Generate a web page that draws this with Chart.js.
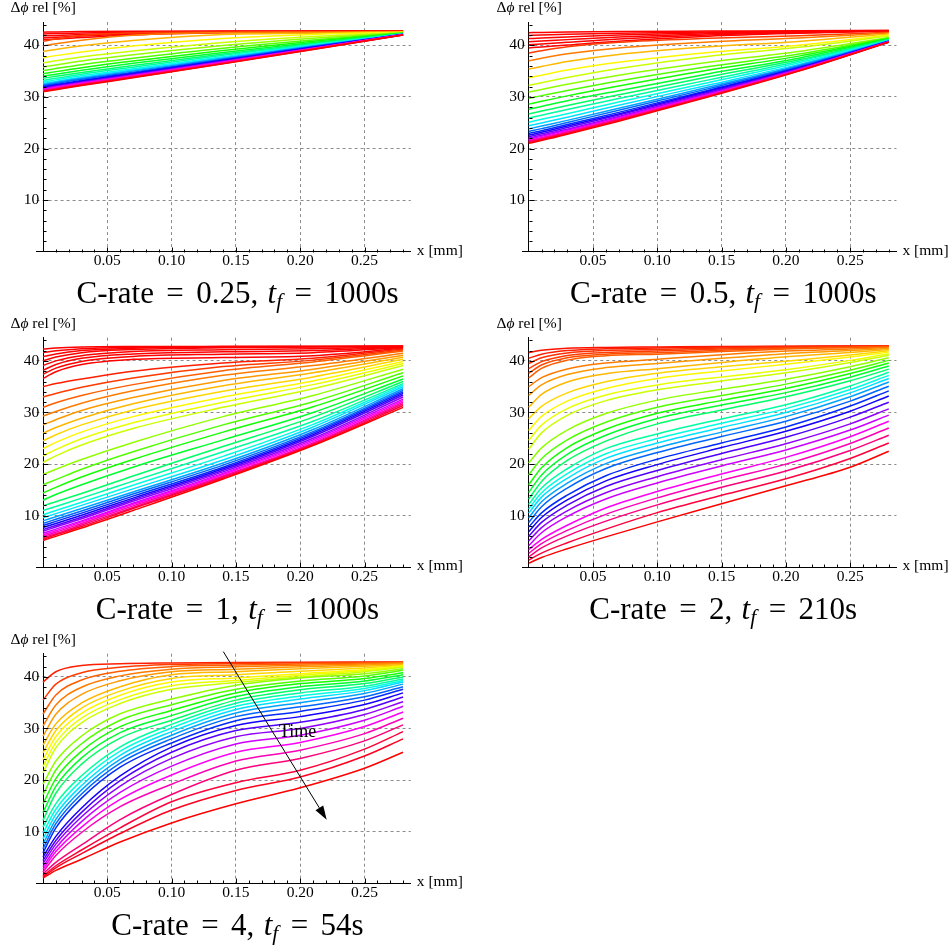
<!DOCTYPE html>
<html>
<head>
<meta charset="utf-8">
<title>Δϕ rel profiles</title>
<script src="https://cdn.jsdelivr.net/npm/chart.js@4.4.1/dist/chart.umd.min.js"></script>
<style>
  html, body { margin: 0; padding: 0; background: #fff; }
  body { width: 952px; height: 951px; position: relative; overflow: hidden;
         font-family: 'Liberation Serif', 'DejaVu Serif', serif; }
  .panel { position: absolute; width: 470px; height: 300px; }
  .cap { position: absolute; width: 476px; text-align: center; font-size: 31px;
         line-height: 1; white-space: nowrap; color: #000; }
  .cap .eq { margin: 0 0.4em; }
  .cap .sp { display: inline-block; width: 0.3em; }
  .cap sub { font-size: 0.7em; vertical-align: -0.25em; line-height: 0; font-style: italic; }
</style>
</head>
<body>
<script>
const xCoarse = [0, 0.01, 0.03, 0.07, 0.14, 0.21, 0.28];
const xFine = [0, 0.01, 0.03, 0.06, 0.10, 0.15, 0.20, 0.25, 0.28];

const cRates = ['0.25', '0.5', '1', '2', '4'];
const tFinal = ['1000s', '1000s', '1000s', '210s', '54s'];
const xTicks = [0.05, 0.10, 0.15, 0.20, 0.25];
const yTicks = [10, 20, 30, 40];

// hue of each profile (0 = first, 1 = last, Mathematica Hue scale)
const hue025 = [0, 0, 0, 0, 0, .04, .08, .12, .16, .20, .24, .28, .32, .36, .40, .44, .48,
  .52, .56, .60, .64, .68, .72, .76, .80, .84, .88, .92, .96, 1];
const phi025 = [
  [42.55, 42.6, 42.66, 42.72, 42.76, 42.78, 42.8],
  [42.2, 42.27, 42.4, 42.58, 42.7, 42.74, 42.77],
  [41.85, 41.92, 42.1, 42.4, 42.62, 42.7, 42.76],
  [41.45, 41.55, 41.8, 42.2, 42.52, 42.66, 42.74],
  [41.1, 41.2, 41.5, 42.0, 42.42, 42.6, 42.72],
  [40.8, 41.2, 41.9, 42.4, 42.6, 42.65, 42.7],
  [39.9, 40.3, 41.0, 41.95, 42.45, 42.55, 42.65],
  [38.8, 39.2, 39.9, 40.95, 42.1, 42.35, 42.6],
  [37.6, 38.0, 38.7, 39.85, 41.3, 42.1, 42.55],
  [36.6, 37.0, 37.75, 38.9, 40.55, 41.7, 42.5],
  [35.8, 36.2, 36.95, 38.15, 39.95, 41.35, 42.45],
  [35.1, 35.5, 36.25, 37.5, 39.45, 41.05, 42.4],
  [34.5, 34.9, 35.65, 36.95, 39.0, 40.8, 42.35],
  [34.0, 34.4, 35.15, 36.5, 38.6, 40.55, 42.3],
  [33.6, 34.0, 34.75, 36.1, 38.3, 40.35, 42.26],
  [33.2, 33.6, 34.4, 35.75, 38.05, 40.2, 42.22],
  [32.9, 33.3, 34.1, 35.45, 37.8, 40.05, 42.19],
  [32.6, 33.0, 33.8, 35.2, 37.6, 39.9, 42.16],
  [32.4, 32.8, 33.6, 35.0, 37.45, 39.85, 42.14],
  [32.2, 32.6, 33.4, 34.8, 37.3, 39.75, 42.12],
  [32.0, 32.4, 33.2, 34.65, 37.15, 39.65, 42.1],
  [31.85, 32.25, 33.05, 34.5, 37.05, 39.6, 42.09],
  [31.7, 32.1, 32.9, 34.35, 36.9, 39.5, 42.07],
  [31.6, 32.0, 32.8, 34.25, 36.85, 39.45, 42.06],
  [31.5, 31.9, 32.7, 34.15, 36.75, 39.4, 42.05],
  [31.4, 31.8, 32.6, 34.05, 36.7, 39.4, 42.04],
  [31.3, 31.7, 32.5, 34.0, 36.6, 39.35, 42.03],
  [31.2, 31.6, 32.4, 33.9, 36.55, 39.3, 42.02],
  [31.1, 31.5, 32.3, 33.8, 36.45, 39.25, 42.01],
  [31.0, 31.4, 32.2, 33.7, 36.4, 39.2, 42.0]
];

const hue05 = [0, 0, 0, 0, 0, 0, .04, .08, .12, .16, .20, .24, .28, .32, .36, .40, .44, .48,
  .52, .56, .60, .64, .68, .72, .76, .80, .84, .88, .92, .96, 1];
const phi05 = [
  [42.45, 42.5, 42.58, 42.68, 42.75, 42.8, 42.88],
  [41.9, 41.98, 42.12, 42.35, 42.6, 42.72, 42.85],
  [41.3, 41.4, 41.62, 42.0, 42.42, 42.64, 42.82],
  [40.7, 40.82, 41.1, 41.62, 42.22, 42.55, 42.8],
  [40.1, 40.24, 40.58, 41.22, 42.0, 42.44, 42.77],
  [39.5, 39.66, 40.05, 40.8, 41.75, 42.32, 42.74],
  [38.5, 38.95, 39.7, 40.6, 41.35, 41.85, 42.55],
  [37.0, 37.5, 38.35, 39.5, 40.65, 41.4, 42.4],
  [35.4, 35.9, 36.85, 38.2, 39.7, 40.75, 42.2],
  [33.7, 34.2, 35.2, 36.7, 38.6, 40.0, 42.0],
  [32.2, 32.75, 33.75, 35.5, 37.9, 39.6, 41.8],
  [30.9, 31.45, 32.45, 34.2, 36.7, 38.8, 41.5],
  [29.7, 30.25, 31.25, 33.1, 35.9, 38.3, 41.4],
  [28.6, 29.15, 30.2, 32.1, 35.2, 37.9, 41.3],
  [27.6, 28.15, 29.25, 31.2, 34.5, 37.5, 41.2],
  [26.7, 27.25, 28.35, 30.4, 33.9, 37.2, 41.1],
  [25.9, 26.45, 27.55, 29.7, 33.3, 36.9, 41.05],
  [25.1, 25.65, 26.75, 29.0, 32.8, 36.6, 41.0],
  [24.4, 24.95, 26.05, 28.4, 32.3, 36.3, 40.9],
  [23.8, 24.35, 25.45, 27.8, 31.9, 36.1, 40.85],
  [23.3, 23.85, 25.05, 27.4, 31.6, 35.9, 40.8],
  [22.9, 23.45, 24.65, 27.0, 31.3, 35.7, 40.77],
  [22.6, 23.15, 24.35, 26.7, 31.1, 35.6, 40.74],
  [22.3, 22.85, 24.05, 26.5, 30.9, 35.5, 40.72],
  [22.0, 22.55, 23.75, 26.2, 30.7, 35.4, 40.69],
  [21.8, 22.35, 23.55, 26.0, 30.5, 35.3, 40.67],
  [21.6, 22.15, 23.35, 25.8, 30.4, 35.2, 40.65],
  [21.45, 22.0, 23.2, 25.7, 30.3, 35.15, 40.64],
  [21.3, 21.85, 23.05, 25.6, 30.2, 35.1, 40.63],
  [21.15, 21.7, 22.9, 25.45, 30.1, 35.05, 40.61],
  [21.0, 21.55, 22.75, 25.3, 30.0, 35.0, 40.6]
];

const hue1 = [0, 0, 0, 0, 0, 0, 0, 0, .02, .04, .06, .08, .10, .12, .14, .16, .18, .20, .24,
  .28, .32, .36, .40, .44, .48, .52, .56, .60, .64, .68, .72, .76, .80, .84, .88, .92, .96, 1];
const phi1 = [
  [42.3, 42.5, 42.68, 42.78, 42.82, 42.84, 42.86],
  [41.6, 41.95, 42.35, 42.62, 42.75, 42.8, 42.85],
  [40.8, 41.35, 42.0, 42.45, 42.66, 42.76, 42.84],
  [40.0, 40.75, 41.6, 42.2, 42.55, 42.7, 42.82],
  [39.1, 40.0, 41.0, 41.8, 42.15, 42.35, 42.75],
  [38.2, 39.3, 40.5, 41.35, 41.75, 42.0, 42.7],
  [37.4, 38.6, 39.9, 40.85, 41.3, 41.6, 42.6],
  [36.6, 37.9, 39.3, 40.3, 40.65, 41.0, 42.45],
  [35.0, 35.6, 36.5, 38.0, 39.6, 40.5, 42.3],
  [33.0, 33.7, 34.9, 36.7, 38.9, 40.15, 42.1],
  [31.0, 31.9, 33.3, 35.4, 38.1, 39.8, 41.9],
  [29.3, 30.2, 31.8, 34.2, 37.2, 39.1, 41.5],
  [27.6, 28.6, 30.4, 32.9, 36.2, 38.4, 41.1],
  [26.0, 27.1, 28.9, 31.7, 35.2, 37.7, 40.7],
  [24.5, 25.7, 27.6, 30.5, 34.1, 36.9, 40.3],
  [23.0, 24.2, 26.2, 29.2, 33.0, 36.1, 39.9],
  [21.6, 22.8, 24.9, 28.0, 32.0, 35.4, 39.5],
  [20.3, 21.6, 23.7, 26.9, 31.0, 34.6, 39.1],
  [18.0, 19.0, 20.9, 24.2, 29.2, 33.3, 38.4],
  [16.0, 17.0, 19.0, 22.4, 27.6, 32.1, 37.7],
  [14.4, 15.5, 17.5, 20.9, 26.2, 31.1, 37.1],
  [13.0, 14.1, 16.0, 19.4, 24.7, 30.0, 36.5],
  [11.9, 12.7, 14.3, 17.7, 23.4, 29.1, 36.0],
  [11.0, 11.8, 13.4, 16.7, 22.4, 28.3, 35.6],
  [10.2, 11.0, 12.6, 15.9, 21.5, 27.7, 35.3],
  [9.6, 10.4, 12.0, 15.2, 20.8, 27.2, 35.0],
  [9.0, 9.8, 11.4, 14.6, 20.2, 26.7, 34.6],
  [8.5, 9.3, 10.9, 14.2, 19.8, 26.3, 34.3],
  [8.1, 8.9, 10.5, 13.8, 19.4, 26.0, 34.0],
  [7.7, 8.5, 10.1, 13.4, 19.1, 25.7, 33.7],
  [7.3, 8.1, 9.7, 13.1, 18.8, 25.4, 33.4],
  [7.0, 7.8, 9.4, 12.8, 18.5, 25.0, 33.0],
  [6.6, 7.4, 9.0, 12.4, 18.2, 24.7, 32.6],
  [6.3, 7.1, 8.8, 12.2, 18.0, 24.4, 32.3],
  [6.0, 6.8, 8.5, 11.9, 17.7, 24.1, 32.0],
  [5.7, 6.5, 8.2, 11.6, 17.5, 23.9, 31.7],
  [5.45, 6.3, 7.9, 11.4, 17.3, 23.75, 31.35],
  [5.2, 6.0, 7.6, 11.0, 17.1, 23.6, 31.0]
];

const hue2 = [.01, .02, .03, .04, .05, .06, .08, .10, .12, .14, .16, .18, .20, .24, .28, .32,
  .36, .40, .44, .48, .52, .56, .60, .64, .68, .72, .76, .80, .84, .88, .92, .96, 1];
const phi2 = [
  [41.6, 42.05, 42.45, 42.62, 42.7, 42.8, 42.85, 42.88, 42.9],
  [40.5, 41.3, 42.0, 42.36, 42.5, 42.7, 42.8, 42.86, 42.9],
  [39.5, 40.6, 41.55, 42.0, 42.2, 42.5, 42.7, 42.79, 42.85],
  [38.5, 39.85, 41.05, 41.65, 41.9, 42.3, 42.6, 42.75, 42.85],
  [37.6, 39.2, 40.6, 41.3, 41.6, 42.05, 42.45, 42.66, 42.8],
  [36.7, 38.55, 40.15, 41.0, 41.3, 41.8, 42.3, 42.57, 42.75],
  [35.0, 36.75, 38.45, 39.6, 40.3, 41.2, 41.9, 42.32, 42.6],
  [33.3, 35.35, 37.35, 38.7, 39.5, 40.5, 41.4, 42.0, 42.4],
  [31.0, 33.5, 35.9, 37.5, 38.5, 39.7, 40.8, 41.64, 42.2],
  [28.8, 31.2, 33.8, 35.95, 37.6, 38.85, 39.95, 41.15, 41.95],
  [26.5, 29.25, 32.2, 34.65, 36.6, 38.05, 39.35, 40.75, 41.7],
  [24.6, 27.55, 30.75, 33.4, 35.35, 36.9, 38.3, 40.1, 41.4],
  [22.9, 26.05, 29.45, 32.3, 34.4, 36.1, 37.7, 39.7, 41.1],
  [20.2, 23.15, 26.6, 29.8, 32.4, 34.5, 36.45, 38.87, 40.6],
  [17.9, 21.05, 24.7, 28.1, 31.0, 33.3, 35.5, 38.2, 40.1],
  [16.0, 19.3, 23.2, 26.75, 29.85, 32.35, 34.65, 37.55, 39.6],
  [14.5, 17.9, 21.9, 25.6, 28.85, 31.45, 33.85, 36.85, 39.0],
  [13.2, 16.65, 20.7, 24.45, 27.8, 30.5, 33.05, 36.15, 38.4],
  [12.2, 15.35, 19.1, 23.0, 25.85, 28.75, 31.5, 35.15, 37.8],
  [11.3, 14.45, 18.15, 22.0, 24.95, 27.9, 30.75, 34.45, 37.2],
  [10.5, 13.6, 17.25, 21.1, 24.1, 27.1, 30.0, 33.8, 36.6],
  [9.6, 12.7, 16.3, 20.1, 23.15, 26.2, 29.2, 33.05, 35.9],
  [8.7, 11.75, 15.35, 19.15, 22.25, 25.35, 28.3, 32.2, 35.1],
  [7.8, 10.55, 14.0, 17.75, 20.95, 24.1, 27.2, 31.25, 34.2],
  [6.9, 9.65, 13.05, 16.75, 19.9, 23.2, 26.35, 30.25, 33.2],
  [6.0, 8.7, 12.05, 15.65, 18.75, 22.05, 25.2, 29.1, 32.0],
  [5.1, 7.7, 10.95, 14.45, 17.55, 20.85, 23.95, 27.8, 30.7],
  [4.2, 6.7, 9.85, 13.25, 16.35, 19.65, 22.75, 26.6, 29.5],
  [3.4, 5.4, 8.15, 11.5, 14.7, 18.1, 21.3, 25.3, 28.3],
  [2.7, 4.6, 7.15, 10.25, 13.45, 16.85, 20.0, 24.0, 27.0],
  [2.0, 3.75, 6.1, 8.95, 12.1, 15.5, 18.65, 22.65, 25.6],
  [1.4, 2.75, 4.75, 7.4, 10.6, 13.95, 17.15, 21.1, 24.1],
  [0.8, 1.9, 3.6, 5.9, 8.8, 12.3, 15.8, 19.4, 22.5]
];

const hue4 = [.02, .04, .06, .08, .10, .12, .14, .16, .18, .20, .24, .28, .32, .36, .40, .44,
  .48, .52, .56, .60, .64, .68, .72, .76, .80, .84, .88, .92, .96, .98, 1];
const phi4 = [
  [39.0, 41.0, 42.2, 42.55, 42.7, 42.8, 42.85, 42.88, 42.9],
  [35.5, 38.6, 40.8, 41.85, 42.4, 42.6, 42.7, 42.78, 42.85],
  [32.8, 36.5, 39.4, 41.1, 42.0, 42.3, 42.5, 42.67, 42.8],
  [30.5, 34.55, 38.0, 40.2, 41.5, 41.95, 42.25, 42.5, 42.7],
  [28.5, 32.75, 36.6, 39.25, 41.0, 41.5, 41.95, 42.3, 42.6],
  [26.8, 30.9, 34.95, 38.1, 40.4, 41.0, 41.6, 42.04, 42.4],
  [25.3, 29.6, 33.95, 37.25, 39.7, 40.4, 41.1, 41.73, 42.25],
  [23.9, 28.45, 32.95, 36.45, 39.0, 39.8, 40.6, 41.43, 42.1],
  [22.6, 27.3, 32.0, 35.6, 38.3, 39.3, 40.3, 41.24, 42.0],
  [21.4, 26.25, 31.1, 34.85, 37.6, 38.9, 40.0, 41.02, 41.85],
  [19.2, 23.7, 28.55, 32.85, 35.7, 38.4, 39.8, 40.6, 41.6],
  [17.2, 21.95, 27.05, 31.6, 34.6, 37.6, 39.2, 40.18, 41.3],
  [15.4, 20.3, 25.6, 30.35, 33.5, 36.9, 38.7, 39.68, 40.8],
  [13.7, 18.8, 24.3, 29.2, 32.5, 36.2, 38.1, 39.2, 40.4],
  [12.2, 17.45, 23.1, 28.15, 31.6, 35.5, 37.5, 38.7, 40.0],
  [10.9, 15.45, 20.85, 26.45, 30.8, 34.9, 36.9, 38.2, 39.6],
  [9.7, 14.35, 19.9, 25.6, 30.1, 34.3, 36.3, 37.77, 39.3],
  [8.6, 13.35, 18.95, 24.8, 29.4, 33.7, 35.7, 37.34, 39.0],
  [7.6, 12.4, 18.1, 24.0, 28.7, 33.0, 35.0, 36.8, 38.6],
  [6.7, 11.55, 17.3, 23.3, 28.0, 32.3, 34.2, 36.17, 38.1],
  [5.9, 10.75, 16.5, 22.5, 27.2, 31.5, 33.3, 35.5, 37.6],
  [5.1, 9.1, 14.6, 20.8, 26.4, 30.6, 32.3, 34.65, 36.9],
  [4.4, 8.3, 13.75, 19.9, 25.4, 29.6, 31.2, 33.7, 36.1],
  [3.8, 7.6, 12.9, 18.85, 24.2, 28.4, 30.0, 32.7, 35.2],
  [3.2, 6.85, 11.95, 17.6, 22.7, 27.0, 28.7, 31.6, 34.3],
  [2.7, 6.15, 10.9, 16.25, 21.0, 25.4, 27.3, 30.37, 33.2],
  [2.2, 5.4, 9.85, 14.85, 19.2, 23.7, 25.8, 29.0, 32.0],
  [1.8, 4.05, 7.45, 12.35, 17.2, 21.9, 24.2, 27.6, 30.7],
  [1.4, 3.4, 6.45, 10.75, 15.8, 19.5, 21.9, 26.0, 29.4],
  [1.2, 3.0, 5.75, 9.65, 14.2, 18.0, 20.6, 24.67, 28.0],
  [1.0, 2.5, 4.65, 8.0, 11.7, 15.4, 18.5, 22.3, 25.4]
];

// "Time" annotation in the last panel, in data units
const timeArrow = { fromX: 0.1402, fromY: 44.9, toX: 0.2206, toY: 12.3, textX: 0.198, textY: 29.3 };

const PX_PER_MM = 1286, PX_PER_PCT = 5.16;
const X_MIN = -0.005, X_MAX = 0.286, Y_MAX = 44.5;
const PANEL_W = 470, PANEL_H = 300;
const SERIF = "'Liberation Serif', 'DejaVu Serif', serif";

const panels = [
  { xs: xCoarse, hue: hue025, phi: phi025, left: 0, top: 0, ox: 43, oy: 251.7 },
  { xs: xCoarse, hue: hue05, phi: phi05, left: 486, top: 0, ox: 528.7, oy: 251.7 },
  { xs: xCoarse, hue: hue1, phi: phi1, left: 0, top: 316, ox: 43, oy: 567.3 },
  { xs: xFine, hue: hue2, phi: phi2, left: 486, top: 316, ox: 528.7, oy: 567.3 },
  { xs: xFine, hue: hue4, phi: phi4, left: 0, top: 632, ox: 43, oy: 883.3, arrow: timeArrow }
];

function rainbow(h) {
  return 'hsl(' + Math.round(h * 360) + ', 100%, 50%)';
}

function makeDeco(arrow) {
  return {
    id: 'deco',
    afterDraw(chart) {
      const { ctx, chartArea: a, scales: { x, y } } = chart;
      const x0 = Math.round(x.getPixelForValue(0)) + 0.5;
      const y0 = Math.round(y.getPixelForValue(0)) + 0.5;
      ctx.save();
      ctx.strokeStyle = '#000';
      ctx.fillStyle = '#000';
      ctx.lineWidth = 1;

      // major and minor ticks, Mathematica style
      ctx.beginPath();
      for (let i = 1; i <= 28; i++) {
        const px = Math.round(x.getPixelForValue(i / 100)) + 0.5;
        const len = i % 5 === 0 ? 5 : 3;
        ctx.moveTo(px, y0);
        ctx.lineTo(px, y0 - len);
      }
      for (let i = 1; i <= 22; i++) {
        const py = Math.round(y.getPixelForValue(i * 2)) + 0.5;
        const len = i % 5 === 0 ? 5 : 3;
        ctx.moveTo(x0, py);
        ctx.lineTo(x0 + len, py);
      }
      ctx.stroke();

      // axis titles
      ctx.textBaseline = 'middle';
      ctx.textAlign = 'left';
      const ty = a.top - 14;
      let tx = x0 - 33;
      ctx.font = '15.5px ' + SERIF;
      ctx.fillText('Δ', tx, ty);
      tx += ctx.measureText('Δ').width;
      ctx.font = 'italic 15.5px ' + SERIF;
      ctx.fillText('ϕ', tx, ty);
      tx += ctx.measureText('ϕ').width;
      ctx.font = '15.5px ' + SERIF;
      ctx.fillText(' rel [%]', tx, ty);
      ctx.fillText('x [mm]', a.right + 6, y0 - 2);

      if (arrow) {
        const p1x = x.getPixelForValue(arrow.fromX), p1y = y.getPixelForValue(arrow.fromY);
        const p2x = x.getPixelForValue(arrow.toX), p2y = y.getPixelForValue(arrow.toY);
        const ang = Math.atan2(p2y - p1y, p2x - p1x);
        const hl = 14, hw = 4.5;
        const bx = p2x - hl * Math.cos(ang), by = p2y - hl * Math.sin(ang);
        ctx.beginPath();
        ctx.moveTo(p1x, p1y);
        ctx.lineTo(bx, by);
        ctx.stroke();
        ctx.beginPath();
        ctx.moveTo(p2x, p2y);
        ctx.lineTo(bx + hw * Math.sin(ang), by - hw * Math.cos(ang));
        ctx.lineTo(bx - hw * Math.sin(ang), by + hw * Math.cos(ang));
        ctx.closePath();
        ctx.fill();
        ctx.font = '18px ' + SERIF;
        ctx.textAlign = 'center';
        ctx.fillText('Time', x.getPixelForValue(arrow.textX), y.getPixelForValue(arrow.textY));
      }
      ctx.restore();
    }
  };
}

panels.forEach(function (p, k) {
  const div = document.createElement('div');
  div.className = 'panel';
  div.style.left = p.left + 'px';
  div.style.top = p.top + 'px';
  const canvas = document.createElement('canvas');
  div.appendChild(canvas);
  document.body.appendChild(div);

  const areaLeft = p.ox + X_MIN * PX_PER_MM - p.left;
  const areaTop = p.oy - Y_MAX * PX_PER_PCT - p.top;
  const areaW = (X_MAX - X_MIN) * PX_PER_MM;
  const areaH = Y_MAX * PX_PER_PCT;

  const tickFont = { family: SERIF, size: 15.5 };

  new Chart(canvas, {
    type: 'line',
    data: {
      datasets: p.phi.map(function (row, i) {
        return {
          data: row.map(function (v, j) { return { x: p.xs[j], y: v }; }),
          borderColor: rainbow(p.hue[i]),
          borderWidth: 1.5,
          pointRadius: 0,
          fill: false,
          cubicInterpolationMode: 'monotone',
          order: -i
        };
      })
    },
    options: {
      responsive: true,
      maintainAspectRatio: false,
      animation: false,
      events: [],
      layout: {
        padding: {
          left: areaLeft,
          top: areaTop,
          right: PANEL_W - areaLeft - areaW,
          bottom: PANEL_H - areaTop - areaH
        }
      },
      plugins: { legend: { display: false }, tooltip: { enabled: false } },
      scales: {
        x: {
          type: 'linear',
          position: { y: 0 },
          min: X_MIN,
          max: X_MAX,
          afterBuildTicks: function (s) { s.ticks = xTicks.map(function (v) { return { value: v }; }); },
          ticks: {
            callback: function (v) { return v.toFixed(2); },
            color: '#000', font: tickFont, padding: 0, maxRotation: 0, autoSkip: false
          },
          grid: { color: '#8c8c8c', lineWidth: 1, drawTicks: false },
          border: { display: true, color: '#000', width: 1, dash: [3, 3] }
        },
        y: {
          type: 'linear',
          position: { x: 0 },
          min: 0,
          max: Y_MAX,
          afterBuildTicks: function (s) { s.ticks = yTicks.map(function (v) { return { value: v }; }); },
          ticks: {
            callback: function (v) { return v + ' '; },
            color: '#000', font: tickFont, padding: 0, autoSkip: false
          },
          grid: { color: '#8c8c8c', lineWidth: 1, drawTicks: false },
          border: { display: true, color: '#000', width: 1, dash: [3, 3] }
        }
      }
    },
    plugins: [makeDeco(p.arrow)]
  });

  // caption under the panel
  const cap = document.createElement('div');
  cap.className = 'cap';
  cap.style.left = (p.ox + 194.5 - 238) + 'px';
  cap.style.top = (p.oy + 51.7 - 26) + 'px';
  cap.innerHTML = 'C-rate<span class="eq">=</span>' + cRates[k] +
    ',<span class="sp"></span><i>t</i><sub>f</sub><span class="eq">=</span>' + tFinal[k];
  document.body.appendChild(cap);
});
</script>
</body>
</html>
